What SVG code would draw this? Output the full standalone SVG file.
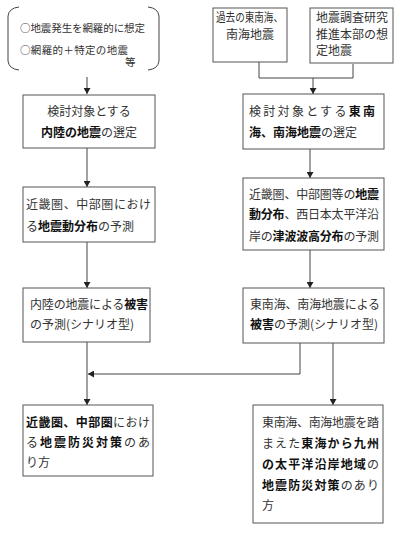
<svg xmlns="http://www.w3.org/2000/svg" width="400" height="533" viewBox="0 0 400 533">
<style>
.box{fill:#fff;stroke:#555;stroke-width:1}
.ln{fill:none;stroke:#444;stroke-width:1}
text{font-family:"Noto Sans CJK JP","Noto Sans",sans-serif;font-size:12px;fill:#333}
.s{font-size:10.5px}
.b{font-weight:700;fill:#111}
</style>
<defs>
<marker id="ah" markerUnits="userSpaceOnUse" markerWidth="7" markerHeight="7" refX="6" refY="3.5" orient="auto">
<path d="M0,0 L6,3.5 L0,7 z" fill="#222"/>
</marker>
</defs>
<rect width="400" height="533" fill="#fff"/>
<g id="connectors">
<path class="ln" d="M87,77 V94" marker-end="url(#ah)"/>
<path class="ln" d="M259,62 V78 H353 V64"/>
<path class="ln" d="M313,78 V94" marker-end="url(#ah)"/>
<path class="ln" d="M87,148 V187" marker-end="url(#ah)"/>
<path class="ln" d="M310,149 V178" marker-end="url(#ah)"/>
<path class="ln" d="M87,242 V288" marker-end="url(#ah)"/>
<path class="ln" d="M310,250 V288" marker-end="url(#ah)"/>
<path class="ln" d="M87,342 V405" marker-end="url(#ah)"/>
<path class="ln" d="M300,343 V374 H88" marker-end="url(#ah)"/>
<path class="ln" d="M333,343 V405" marker-end="url(#ah)"/>
</g>
<g id="n_assume">
<path class="ln" d="M19,7 Q9,8 8,16 V61 Q9,69 19,70 M148,7 Q158,8 159,16 V61 Q158,69 148,70"/>
<text class="s" x="20" y="32" textLength="125" lengthAdjust="spacing">○地震発生を網羅的に想定</text>
<text class="s" x="20" y="54" textLength="108" lengthAdjust="spacing">○網羅的＋特定の地震</text>
<text class="s" x="125" y="66">等</text>
</g>
<g id="n_past">
<rect class="box" x="213" y="8" width="74" height="54"/>
<text x="216" y="22" font-size="9.8" textLength="67" lengthAdjust="spacingAndGlyphs">過去の東南海、</text>
<text x="250" y="39" font-size="9.8" text-anchor="middle">南海地震</text>
</g>
<g id="n_hq">
<rect class="box" x="310" y="8" width="83" height="55"/>
<text x="316" y="22" font-size="11">地震調査研究</text>
<text x="316" y="39" font-size="11">推進本部の想</text>
<text x="316" y="55" font-size="11">定地震</text>
</g>
<g id="n_l1">
<rect class="box" x="23" y="95" width="132" height="53"/>
<text x="89" y="116" text-anchor="middle">検討対象とする</text>
<text x="89" y="137" text-anchor="middle"><tspan class="b">内陸の地震</tspan>の選定</text>
</g>
<g id="n_r1">
<rect class="box" x="243" y="94" width="141" height="55"/>
<text x="249" y="116" textLength="126" lengthAdjust="spacing">検討対象とする<tspan class="b">東南</tspan></text>
<text x="249" y="137"><tspan class="b">海、南海地震</tspan>の選定</text>
</g>
<g id="n_l2">
<rect class="box" x="23" y="187" width="132" height="55"/>
<text x="26" y="209" textLength="125" lengthAdjust="spacing">近畿圏、中部圏におけ</text>
<text x="26" y="231">る<tspan class="b">地震動分布</tspan>の予測</text>
</g>
<g id="n_r2">
<rect class="box" x="243" y="178" width="141" height="72"/>
<text x="249" y="199" textLength="130" lengthAdjust="spacing">近畿圏、中部圏等の<tspan class="b">地震</tspan></text>
<text x="249" y="219" textLength="130" lengthAdjust="spacing"><tspan class="b">動分布</tspan>、西日本太平洋沿</text>
<text x="249" y="241" textLength="130" lengthAdjust="spacing">岸の<tspan class="b">津波波高分布</tspan>の予測</text>
</g>
<g id="n_l3">
<rect class="box" x="23" y="288" width="127" height="54"/>
<text x="30" y="309" textLength="118" lengthAdjust="spacing">内陸の地震による<tspan class="b">被害</tspan></text>
<text x="30" y="329">の予測(シナリオ型)</text>
</g>
<g id="n_r3">
<rect class="box" x="243" y="288" width="141" height="55"/>
<text x="250" y="309" textLength="130" lengthAdjust="spacing">東南海、南海地震による</text>
<text x="250" y="329" textLength="128" lengthAdjust="spacing"><tspan class="b">被害</tspan>の予測(シナリオ型)</text>
</g>
<g id="n_l4">
<rect class="box" x="23" y="405" width="130" height="71"/>
<text x="26" y="427" textLength="124" lengthAdjust="spacing"><tspan class="b">近畿圏、中部圏</tspan>におけ</text>
<text x="26" y="447" textLength="124" lengthAdjust="spacing">る<tspan class="b">地震防災対策</tspan>のあ</text>
<text x="26" y="467">り方</text>
</g>
<g id="n_r4">
<rect class="box" x="253" y="405" width="130" height="118"/>
<text x="262" y="427" textLength="117" lengthAdjust="spacing">東南海、南海地震を踏</text>
<text x="262" y="448" textLength="117" lengthAdjust="spacing">まえた<tspan class="b">東海から九州</tspan></text>
<text x="262" y="469" textLength="117" lengthAdjust="spacing"><tspan class="b">の太平洋沿岸地域</tspan>の</text>
<text x="262" y="490" textLength="117" lengthAdjust="spacing"><tspan class="b">地震防災対策</tspan>のあり</text>
<text x="262" y="510">方</text>
</g>
</svg>
